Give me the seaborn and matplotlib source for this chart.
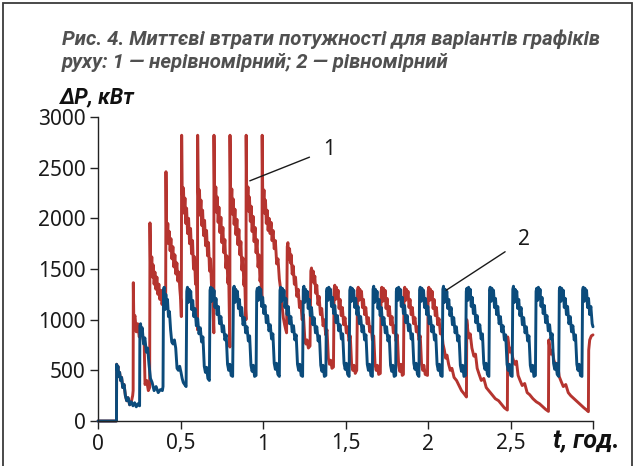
import matplotlib
matplotlib.use("Agg")
import matplotlib.pyplot as plt
import seaborn as sns
import pandas as pd
from matplotlib.patches import Rectangle

# ---- data: t in hours, dP in kW ----
# curve 1 - non-uniform schedule (one row per train cycle)
red_t = [
    0.000, 0.112, 0.113, 0.117, 0.121, 0.126, 0.131, 0.137, 0.143, 0.150, 0.158, 0.166, 0.174, 0.182, 0.192, 0.202, 0.210, 0.213,
    0.214, 0.217, 0.224, 0.232, 0.240, 0.250, 0.260, 0.270, 0.280, 0.285, 0.295, 0.305, 0.313,
    0.315, 0.318, 0.322, 0.326, 0.330, 0.335, 0.340, 0.345, 0.351, 0.357, 0.363, 0.369, 0.375, 0.381, 0.388, 0.395, 0.401, 0.407, 0.410,
    0.412, 0.415, 0.419, 0.423, 0.427, 0.432, 0.437, 0.442, 0.448, 0.454, 0.460, 0.466, 0.472, 0.478, 0.484, 0.490, 0.496, 0.501, 0.505,
    0.507, 0.510, 0.514, 0.518, 0.522, 0.527, 0.532, 0.537, 0.543, 0.549, 0.555, 0.561, 0.567, 0.573, 0.579, 0.585, 0.591, 0.596, 0.600, 0.603,
    0.604, 0.607, 0.611, 0.615, 0.619, 0.624, 0.629, 0.634, 0.640, 0.646, 0.652, 0.658, 0.664, 0.670, 0.676, 0.682, 0.688, 0.693, 0.697, 0.702,
    0.703, 0.706, 0.710, 0.714, 0.718, 0.723, 0.728, 0.733, 0.739, 0.745, 0.751, 0.757, 0.763, 0.769, 0.775, 0.781, 0.787, 0.792, 0.796, 0.799,
    0.800, 0.803, 0.807, 0.811, 0.815, 0.820, 0.825, 0.830, 0.836, 0.842, 0.848, 0.854, 0.860, 0.866, 0.872, 0.878, 0.884, 0.889, 0.893, 0.897,
    0.898, 0.901, 0.905, 0.909, 0.913, 0.918, 0.923, 0.928, 0.934, 0.940, 0.946, 0.952, 0.958, 0.964, 0.970, 0.976, 0.982, 0.987, 0.991, 0.994,
    0.995, 0.998, 1.002, 1.006, 1.010, 1.015, 1.020, 1.025, 1.031, 1.037, 1.043, 1.049, 1.055, 1.061, 1.068, 1.075, 1.083, 1.091, 1.099, 1.107, 1.115, 1.123, 1.131, 1.138, 1.143,
    1.147, 1.151, 1.156, 1.161, 1.166, 1.171, 1.177, 1.183, 1.190, 1.197, 1.205, 1.213, 1.221, 1.229, 1.237, 1.245, 1.253, 1.260, 1.267, 1.275, 1.285,
    1.290, 1.294, 1.299, 1.304, 1.309, 1.314, 1.320, 1.326, 1.333, 1.340, 1.348, 1.356, 1.364, 1.372, 1.380, 1.388, 1.396, 1.403, 1.410, 1.418, 1.427,
    1.431, 1.435, 1.440, 1.445, 1.450, 1.455, 1.461, 1.467, 1.474, 1.481, 1.489, 1.497, 1.505, 1.513, 1.521, 1.529, 1.537, 1.544, 1.551, 1.559, 1.568,
    1.573, 1.577, 1.582, 1.587, 1.592, 1.597, 1.603, 1.609, 1.616, 1.623, 1.631, 1.639, 1.647, 1.655, 1.663, 1.671, 1.679, 1.686, 1.693, 1.701, 1.711,
    1.716, 1.720, 1.725, 1.730, 1.735, 1.740, 1.746, 1.752, 1.759, 1.766, 1.774, 1.782, 1.790, 1.798, 1.806, 1.814, 1.822, 1.829, 1.836, 1.844, 1.851,
    1.855, 1.859, 1.864, 1.869, 1.874, 1.879, 1.885, 1.891, 1.898, 1.905, 1.913, 1.921, 1.929, 1.937, 1.945, 1.953, 1.961, 1.968, 1.975, 1.983, 1.997,
    2.001, 2.005, 2.010, 2.015, 2.020, 2.025, 2.031, 2.037, 2.044, 2.051, 2.059, 2.067, 2.075, 2.083, 2.091, 2.099, 2.107, 2.115, 2.125, 2.135, 2.145, 2.158, 2.173, 2.188, 2.203, 2.218, 2.233,
    2.235, 2.241, 2.248, 2.256, 2.266, 2.278, 2.288, 2.298, 2.310, 2.323, 2.338, 2.353, 2.368, 2.388, 2.408, 2.428, 2.448, 2.463, 2.481,
    2.483, 2.489, 2.496, 2.504, 2.514, 2.526, 2.536, 2.546, 2.558, 2.571, 2.586, 2.601, 2.616, 2.636, 2.656, 2.676, 2.696, 2.713, 2.730,
    2.732, 2.738, 2.745, 2.753, 2.763, 2.775, 2.785, 2.795, 2.807, 2.820, 2.835, 2.850, 2.865, 2.885, 2.905, 2.925, 2.945, 2.960, 2.972,
    2.974, 2.980, 2.990, 3.000,
]
red_p = [
    0, 0, 560, 500, 540, 440, 480, 400, 430, 330, 360, 250, 200, 230, 160, 190, 250, 300,
    1365, 1000, 1040, 880, 960, 830, 900, 840, 760, 360, 400, 300, 330,
    1955, 1560, 1480, 1620, 1420, 1540, 1350, 1470, 1300, 1420, 1250, 1350, 1200, 1290, 1150, 1230, 1100, 1160, 1130,
    2460, 1900, 1820, 1950, 1750, 1870, 1680, 1800, 1600, 1720, 1520, 1640, 1450, 1560, 1380, 1470, 1300, 1200, 1030,
    2820, 2280, 2150, 2300, 2050, 2200, 1950, 2100, 1850, 2000, 1750, 1900, 1650, 1780, 1500, 1620, 1350, 1450, 1150, 900,
    2820, 2300, 2130, 2280, 2030, 2180, 1930, 2080, 1830, 1980, 1730, 1880, 1630, 1760, 1480, 1600, 1330, 1430, 1100, 870,
    2820, 2270, 2160, 2310, 2060, 2210, 1960, 2110, 1860, 2010, 1760, 1910, 1660, 1790, 1510, 1630, 1360, 1460, 1000, 730,
    2820, 2290, 2140, 2290, 2040, 2190, 1940, 2090, 1840, 1990, 1740, 1890, 1640, 1770, 1490, 1610, 1340, 1440, 1150, 1000,
    2820, 2280, 2170, 2310, 2070, 2210, 1970, 2120, 1870, 2020, 1770, 1910, 1660, 1790, 1520, 1640, 1380, 1470, 1250, 1190,
    2820, 2280, 2150, 2280, 2050, 2180, 1950, 2080, 1880, 2000, 1850, 1960, 1780, 1880, 1700, 1780, 1550, 1600, 1400, 1300, 1150, 1020, 950, 900, 870,
    1720, 1760, 1600, 1700, 1560, 1640, 1450, 1530, 1350, 1420, 1230, 1300, 1120, 1180, 1000, 1050, 820, 760, 800, 720, 740,
    1480, 1510, 1380, 1480, 1360, 1430, 1260, 1340, 1150, 1230, 1050, 1110, 940, 1000, 850, 900, 620, 560, 600, 520, 533,
    1300, 1340, 1200, 1320, 1210, 1290, 1110, 1200, 1040, 1120, 950, 1020, 870, 930, 790, 840, 560, 500, 550, 470, 500,
    1290, 1320, 1190, 1300, 1200, 1280, 1120, 1200, 1050, 1120, 960, 1020, 880, 930, 800, 840, 560, 500, 550, 460, 470,
    1280, 1320, 1180, 1310, 1190, 1290, 1110, 1210, 1040, 1130, 950, 1030, 870, 940, 790, 850, 550, 490, 560, 450, 460,
    1290, 1320, 1190, 1300, 1210, 1280, 1120, 1200, 1050, 1120, 960, 1020, 880, 930, 800, 840, 560, 500, 550, 460, 450,
    1280, 1320, 1190, 1300, 1200, 1280, 1110, 1200, 1040, 1120, 950, 1010, 860, 900, 760, 700, 620, 650, 560, 500, 520, 430, 400, 350, 300, 270, 237,
    1000, 900, 820, 860, 720, 640, 660, 520, 460, 400, 420, 330, 300, 260, 220, 200, 160, 130, 108,
    830, 750, 680, 720, 620, 560, 590, 450, 400, 350, 370, 280, 260, 220, 190, 170, 140, 115, 95,
    800, 720, 660, 700, 600, 540, 570, 440, 390, 340, 360, 280, 250, 220, 190, 160, 130, 110, 92,
    700, 800, 840, 850,
]

# curve 2 - uniform schedule (one row per train cycle)
blue_t = [
    0.000, 0.112, 0.113, 0.117, 0.121, 0.126, 0.131, 0.137, 0.143, 0.150, 0.158, 0.166, 0.174, 0.182, 0.192, 0.202, 0.212, 0.222, 0.232, 0.242, 0.252,
    0.254, 0.258, 0.263, 0.268, 0.276, 0.284, 0.293, 0.301, 0.309, 0.318, 0.328, 0.340, 0.352, 0.365, 0.378, 0.390, 0.394,
    0.397, 0.401, 0.406, 0.411, 0.416, 0.421, 0.427, 0.433, 0.440, 0.447, 0.455, 0.463, 0.471, 0.479, 0.487, 0.495, 0.503, 0.510, 0.517, 0.525, 0.534,
    0.538, 0.542, 0.547, 0.552, 0.557, 0.562, 0.568, 0.574, 0.581, 0.588, 0.596, 0.604, 0.612, 0.620, 0.628, 0.636, 0.644, 0.651, 0.658, 0.666, 0.675,
    0.679, 0.683, 0.688, 0.693, 0.698, 0.703, 0.709, 0.715, 0.722, 0.729, 0.737, 0.745, 0.753, 0.761, 0.769, 0.777, 0.785, 0.792, 0.799, 0.807, 0.816,
    0.821, 0.825, 0.830, 0.835, 0.840, 0.845, 0.851, 0.857, 0.864, 0.871, 0.879, 0.887, 0.895, 0.903, 0.911, 0.919, 0.927, 0.934, 0.941, 0.949, 0.958,
    0.962, 0.966, 0.971, 0.976, 0.981, 0.986, 0.992, 0.998, 1.005, 1.012, 1.020, 1.028, 1.036, 1.044, 1.052, 1.060, 1.068, 1.075, 1.082, 1.090, 1.099,
    1.103, 1.107, 1.112, 1.117, 1.122, 1.127, 1.133, 1.139, 1.146, 1.153, 1.161, 1.169, 1.177, 1.185, 1.193, 1.201, 1.209, 1.216, 1.223, 1.231, 1.240,
    1.244, 1.248, 1.253, 1.258, 1.263, 1.268, 1.274, 1.280, 1.287, 1.294, 1.302, 1.310, 1.318, 1.326, 1.334, 1.342, 1.350, 1.357, 1.364, 1.372, 1.381,
    1.385, 1.389, 1.394, 1.399, 1.404, 1.409, 1.415, 1.421, 1.428, 1.435, 1.443, 1.451, 1.459, 1.467, 1.475, 1.483, 1.491, 1.498, 1.505, 1.513, 1.522,
    1.526, 1.530, 1.535, 1.540, 1.545, 1.550, 1.556, 1.562, 1.569, 1.576, 1.584, 1.592, 1.600, 1.608, 1.616, 1.624, 1.632, 1.639, 1.646, 1.654, 1.663,
    1.667, 1.671, 1.676, 1.681, 1.686, 1.691, 1.697, 1.703, 1.710, 1.717, 1.725, 1.733, 1.741, 1.749, 1.757, 1.765, 1.773, 1.780, 1.787, 1.795, 1.804,
    1.808, 1.812, 1.817, 1.822, 1.827, 1.832, 1.838, 1.844, 1.851, 1.858, 1.866, 1.874, 1.882, 1.890, 1.898, 1.906, 1.914, 1.921, 1.928, 1.936, 1.945,
    1.949, 1.953, 1.958, 1.963, 1.968, 1.973, 1.979, 1.985, 1.992, 1.999, 2.007, 2.015, 2.023, 2.031, 2.039, 2.047, 2.055, 2.062, 2.069, 2.077, 2.086,
    2.090, 2.094, 2.099, 2.104, 2.109, 2.114, 2.120, 2.126, 2.133, 2.140, 2.148, 2.156, 2.164, 2.172, 2.180, 2.188, 2.196, 2.203, 2.210, 2.218, 2.227,
    2.232, 2.236, 2.241, 2.246, 2.251, 2.256, 2.262, 2.268, 2.275, 2.282, 2.290, 2.298, 2.306, 2.314, 2.322, 2.330, 2.338, 2.345, 2.352, 2.360, 2.369,
    2.373, 2.377, 2.382, 2.387, 2.392, 2.397, 2.403, 2.409, 2.416, 2.423, 2.431, 2.439, 2.447, 2.455, 2.463, 2.471, 2.479, 2.486, 2.493, 2.501, 2.510,
    2.514, 2.518, 2.523, 2.528, 2.533, 2.538, 2.544, 2.550, 2.557, 2.564, 2.572, 2.580, 2.588, 2.596, 2.604, 2.612, 2.620, 2.627, 2.634, 2.642, 2.651,
    2.655, 2.659, 2.664, 2.669, 2.674, 2.679, 2.685, 2.691, 2.698, 2.705, 2.713, 2.721, 2.729, 2.737, 2.745, 2.753, 2.761, 2.768, 2.775, 2.783, 2.792,
    2.796, 2.800, 2.805, 2.810, 2.815, 2.820, 2.826, 2.832, 2.839, 2.846, 2.854, 2.862, 2.870, 2.878, 2.886, 2.894, 2.902, 2.909, 2.916, 2.924, 2.933,
    2.937, 2.941, 2.946, 2.951, 2.956, 2.961, 2.967, 2.973, 2.980, 2.987, 2.995, 3.000,
]
blue_p = [
    0, 0, 560, 500, 540, 440, 480, 400, 430, 330, 360, 250, 200, 230, 160, 190, 150, 180, 140, 170, 150,
    940, 960, 850, 920, 760, 820, 680, 720, 560, 420, 380, 300, 340, 280, 310, 300, 340,
    1290, 1320, 1100, 1250, 1150, 1200, 1030, 1080, 900, 780, 760, 800, 720, 520, 500, 540, 480, 420, 380, 360, 340,
    1280, 1320, 1170, 1300, 1190, 1280, 1100, 1190, 1030, 1110, 940, 1010, 860, 920, 780, 830, 540, 480, 530, 420, 400,
    1290, 1320, 1180, 1310, 1200, 1290, 1120, 1210, 1050, 1130, 960, 1030, 880, 940, 800, 850, 560, 500, 560, 450, 440,
    1300, 1330, 1170, 1300, 1190, 1280, 1110, 1200, 1040, 1120, 950, 1020, 870, 930, 790, 840, 550, 490, 550, 440, 450,
    1280, 1310, 1190, 1320, 1210, 1300, 1130, 1220, 1060, 1140, 970, 1040, 890, 950, 810, 860, 570, 510, 570, 460, 440,
    1290, 1320, 1180, 1310, 1200, 1290, 1120, 1210, 1050, 1130, 960, 1030, 880, 940, 800, 850, 560, 500, 560, 450, 440,
    1300, 1330, 1170, 1300, 1190, 1280, 1110, 1200, 1040, 1120, 950, 1020, 870, 930, 790, 840, 550, 490, 550, 440, 450,
    1280, 1310, 1190, 1320, 1210, 1300, 1130, 1220, 1060, 1140, 970, 1040, 890, 950, 810, 860, 570, 510, 570, 460, 440,
    1290, 1320, 1180, 1310, 1200, 1290, 1120, 1210, 1050, 1130, 960, 1030, 880, 940, 800, 850, 560, 500, 560, 450, 440,
    1300, 1330, 1170, 1300, 1190, 1280, 1110, 1200, 1040, 1120, 950, 1020, 870, 930, 790, 840, 550, 490, 550, 440, 450,
    1280, 1310, 1190, 1320, 1210, 1300, 1130, 1220, 1060, 1140, 970, 1040, 890, 950, 810, 860, 570, 510, 570, 460, 440,
    1290, 1320, 1180, 1310, 1200, 1290, 1120, 1210, 1050, 1130, 960, 1030, 880, 940, 800, 850, 560, 500, 560, 450, 440,
    1300, 1330, 1170, 1300, 1190, 1280, 1110, 1200, 1040, 1120, 950, 1020, 870, 930, 790, 840, 550, 490, 550, 440, 450,
    1280, 1310, 1190, 1320, 1210, 1300, 1130, 1220, 1060, 1140, 970, 1040, 890, 950, 810, 860, 570, 510, 570, 460, 440,
    1290, 1320, 1180, 1310, 1200, 1290, 1120, 1210, 1050, 1130, 960, 1030, 880, 940, 800, 850, 560, 500, 560, 450, 440,
    1300, 1330, 1170, 1300, 1190, 1280, 1110, 1200, 1040, 1120, 950, 1020, 870, 930, 790, 840, 550, 490, 550, 440, 450,
    1280, 1310, 1190, 1320, 1210, 1300, 1130, 1220, 1060, 1140, 970, 1040, 890, 950, 810, 860, 570, 510, 570, 460, 440,
    1290, 1320, 1180, 1310, 1200, 1290, 1120, 1210, 1050, 1130, 960, 1030, 880, 940, 800, 850, 560, 500, 560, 450, 440,
    1290, 1320, 1180, 1310, 1200, 1290, 1120, 1210, 1050, 1130, 960, 930,
]

x_ticks = [0, 0.5, 1, 1.5, 2, 2.5, 3]
x_labels = ['0', '0,5', '1', '1,5', '2', '2,5', '']
y_ticks = [0, 500, 1000, 1500, 2000, 2500, 3000]

RED = '#b5342f'
BLUE = '#0b4b7b'

sns.set_theme(style='ticks')
plt.rcParams['font.family'] = ['Noto Sans', 'DejaVu Sans']
heading = ['Roboto', 'DejaVu Sans']

red_df = pd.DataFrame({'t': red_t, 'dP': red_p})
blue_df = pd.DataFrame({'t': blue_t, 'dP': blue_p})

fig = plt.figure(figsize=(6.35, 4.66), dpi=100)
ax = fig.add_axes([98 / 635, 1 - 421 / 466, 495 / 635, 304 / 466])

sns.lineplot(data=red_df, x='t', y='dP', ax=ax, color=RED, lw=2.1, estimator=None, sort=False)
sns.lineplot(data=blue_df, x='t', y='dP', ax=ax, color=BLUE, lw=2.1, estimator=None, sort=False)
for ln in ax.lines:
    ln.set_clip_on(False)

ax.set_xlim(0, 3)
ax.set_ylim(0, 3000)
ax.set_xticks(x_ticks)
ax.set_xticklabels(x_labels)
ax.set_yticks(y_ticks)
ax.set_yticklabels([str(v) for v in y_ticks])
ax.set_xlabel('')
ax.set_ylabel('')
sns.despine(ax=ax)
for s in ('left', 'bottom'):
    ax.spines[s].set_color('#222222')
    ax.spines[s].set_linewidth(1.0)
ax.tick_params(axis='both', direction='out', length=6, width=1.0, color='#222222',
               labelsize=15, labelcolor='#1a1a1a', pad=3)

# callouts for the two curves
ax.annotate('1', xy=(0.92, 2370), xytext=(1.40, 2680), fontsize=15, color='#1a1a1a',
            ha='center', va='center',
            arrowprops=dict(arrowstyle='-', color='#1a1a1a', lw=1.0, shrinkA=8, shrinkB=0))
ax.annotate('2', xy=(2.11, 1290), xytext=(2.58, 1790), fontsize=15, color='#1a1a1a',
            ha='center', va='center',
            arrowprops=dict(arrowstyle='-', color='#1a1a1a', lw=1.0, shrinkA=8, shrinkB=0))

# caption and axis titles
cap = dict(family=heading, fontsize=14.7, fontweight='bold', fontstyle='italic', color='#505050',
           ha='left', va='center')
fig.text(62 / 635, 1 - 39 / 466, 'Рис. 4. Миттєві втрати потужності для варіантів графіків', **cap)
fig.text(62 / 635, 1 - 62 / 466, 'руху: 1 — нерівномірний; 2 — рівномірний', **cap)
fig.text(60 / 635, 1 - 97 / 466, 'ΔP, кВт', family=heading, fontsize=15.5, fontweight='bold',
         fontstyle='italic', color='#111111', ha='left', va='center')
fig.text(553 / 635, 1 - 441 / 466, 't, год.', family=heading, fontsize=18, fontweight='bold',
         fontstyle='italic', color='#111111', ha='left', va='center')

# scan frame around the page
fig.add_artist(Rectangle((3 / 635, -0.05), 629 / 635, 1.05 - 3 / 466, transform=fig.transFigure,
                         fill=False, ec='#3a3a3a', lw=1.3))

fig.savefig('out.png', dpi=100)
